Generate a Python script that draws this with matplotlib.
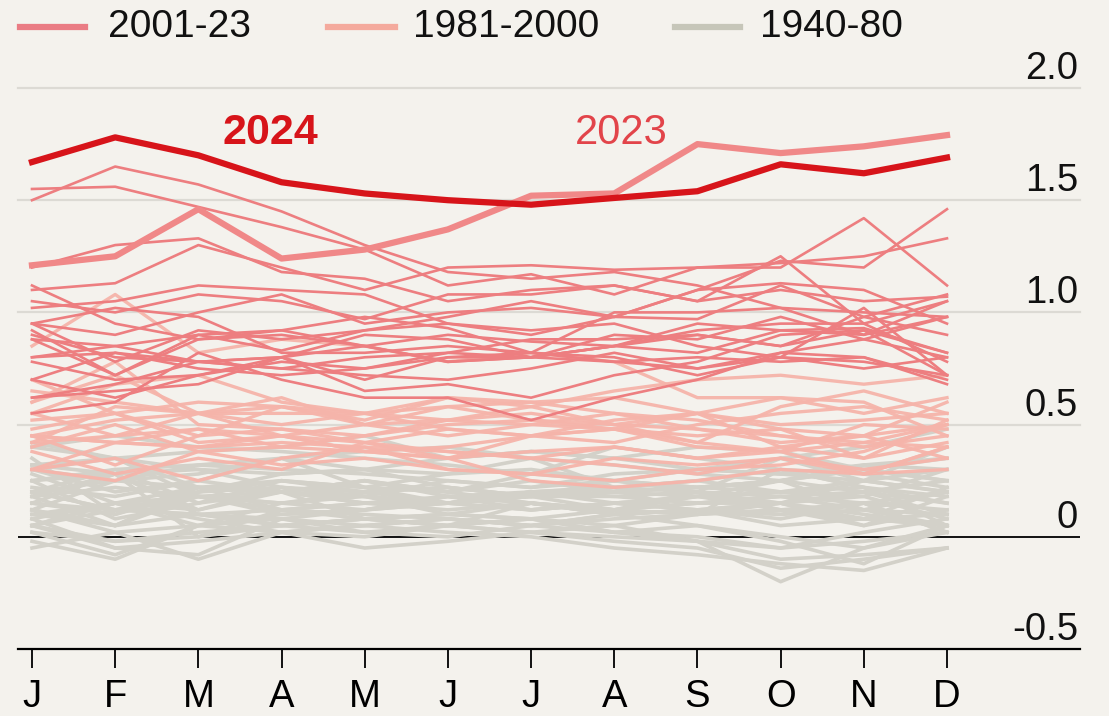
import matplotlib
matplotlib.use("Agg")
import matplotlib.pyplot as plt
from matplotlib.lines import Line2D

plt.rcParams['font.family'] = ['Liberation Sans', 'DejaVu Sans']

months = ["J", "F", "M", "A", "M", "J", "J", "A", "S", "O", "N", "D"]
y_ticks = [-0.5, 0, 0.5, 1.0, 1.5, 2.0]
y_tick_labels = ["-0.5", "0", "0.5", "1.0", "1.5", "2.0"]
legend_labels = ["2001-23", "1981-2000", "1940-80"]

v2024 = [1.67, 1.78, 1.70, 1.58, 1.53, 1.50, 1.48, 1.51, 1.54, 1.66, 1.62, 1.69]
v2023 = [1.21, 1.25, 1.46, 1.24, 1.28, 1.37, 1.52, 1.53, 1.75, 1.71, 1.74, 1.79]

years_2001_22 = [
    [0.62, 0.68, 0.78, 0.75, 0.72, 0.70, 0.75, 0.82, 0.75, 0.82, 0.88, 0.80],  # 2001
    [0.95, 1.02, 0.98, 0.82, 0.82, 0.85, 0.82, 0.78, 0.80, 0.78, 0.80, 0.70],  # 2002
    [0.90, 0.80, 0.78, 0.80, 0.85, 0.78, 0.80, 0.90, 0.88, 0.98, 0.88, 0.98],  # 2003
    [0.80, 0.85, 0.78, 0.80, 0.65, 0.68, 0.62, 0.72, 0.78, 0.90, 0.92, 0.72],  # 2004
    [0.92, 0.72, 0.88, 0.90, 0.85, 0.90, 0.87, 0.85, 0.95, 0.92, 0.93, 0.82],  # 2005
    [0.70, 0.82, 0.75, 0.72, 0.75, 0.80, 0.80, 0.85, 0.82, 0.92, 0.90, 0.98],  # 2006
    [1.12, 0.95, 0.88, 0.92, 0.85, 0.78, 0.80, 0.78, 0.75, 0.80, 0.78, 0.72],  # 2007
    [0.55, 0.60, 0.82, 0.70, 0.62, 0.62, 0.52, 0.62, 0.70, 0.82, 0.80, 0.68],  # 2008
    [0.78, 0.70, 0.72, 0.78, 0.75, 0.82, 0.88, 0.88, 0.90, 0.85, 0.92, 0.82],  # 2009
    [1.02, 1.05, 1.12, 1.10, 1.08, 0.95, 0.92, 0.95, 0.85, 0.80, 1.02, 0.72],  # 2010
    [0.70, 0.62, 0.72, 0.80, 0.70, 0.80, 0.82, 0.80, 0.72, 0.80, 0.75, 0.80],  # 2011
    [0.62, 0.65, 0.68, 0.80, 0.90, 0.88, 0.80, 0.85, 0.92, 0.95, 0.95, 0.78],  # 2012
    [0.80, 0.82, 0.78, 0.75, 0.80, 0.82, 0.80, 0.85, 0.90, 0.85, 0.98, 0.90],  # 2013
    [0.88, 0.72, 0.90, 0.92, 0.98, 0.93, 0.82, 1.00, 1.00, 1.02, 0.90, 1.05],  # 2014
    [0.88, 0.85, 0.90, 0.83, 0.92, 0.95, 0.90, 0.98, 1.10, 1.23, 1.20, 1.46],  # 2015
    [1.50, 1.65, 1.57, 1.45, 1.30, 1.18, 1.15, 1.18, 1.12, 1.02, 1.00, 0.98],  # 2016
    [1.20, 1.30, 1.33, 1.18, 1.15, 1.05, 1.10, 1.12, 1.05, 1.10, 1.05, 1.07],  # 2017
    [0.95, 0.90, 1.00, 1.08, 0.95, 1.00, 1.02, 0.98, 0.97, 1.12, 0.98, 1.08],  # 2018
    [1.10, 1.13, 1.30, 1.20, 1.10, 1.20, 1.21, 1.19, 1.20, 1.22, 1.25, 1.33],  # 2019
    [1.55, 1.56, 1.47, 1.38, 1.28, 1.12, 1.17, 1.08, 1.20, 1.20, 1.42, 1.12],  # 2020
    [0.95, 0.78, 0.92, 0.88, 0.92, 0.98, 1.05, 0.98, 1.10, 1.13, 1.10, 0.95],  # 2021
    [1.05, 1.00, 1.08, 1.05, 0.97, 1.08, 1.08, 1.12, 1.05, 1.25, 0.95, 1.05],  # 2022
]

years_1981_2000 = [
    [0.55, 0.45, 0.55, 0.45, 0.38, 0.40, 0.45, 0.48, 0.40, 0.38, 0.42, 0.50],
    [0.30, 0.35, 0.25, 0.35, 0.40, 0.30, 0.28, 0.25, 0.30, 0.32, 0.38, 0.50],
    [0.65, 0.60, 0.55, 0.55, 0.55, 0.48, 0.45, 0.52, 0.55, 0.40, 0.45, 0.35],
    [0.38, 0.28, 0.35, 0.30, 0.42, 0.35, 0.38, 0.40, 0.35, 0.38, 0.28, 0.30],
    [0.30, 0.25, 0.38, 0.32, 0.35, 0.30, 0.28, 0.35, 0.32, 0.35, 0.30, 0.35],
    [0.45, 0.42, 0.40, 0.42, 0.40, 0.38, 0.35, 0.40, 0.35, 0.40, 0.35, 0.42],
    [0.40, 0.50, 0.38, 0.40, 0.45, 0.52, 0.58, 0.50, 0.55, 0.48, 0.45, 0.60],
    [0.70, 0.55, 0.60, 0.58, 0.55, 0.52, 0.55, 0.50, 0.48, 0.45, 0.40, 0.45],
    [0.30, 0.42, 0.40, 0.45, 0.38, 0.35, 0.45, 0.48, 0.45, 0.48, 0.35, 0.52],
    [0.55, 0.68, 0.72, 0.60, 0.55, 0.58, 0.52, 0.50, 0.42, 0.58, 0.65, 0.55],
    [0.52, 0.55, 0.45, 0.58, 0.50, 0.58, 0.60, 0.55, 0.48, 0.42, 0.45, 0.50],
    [0.45, 0.42, 0.48, 0.40, 0.38, 0.35, 0.25, 0.22, 0.25, 0.30, 0.28, 0.40],
    [0.42, 0.45, 0.48, 0.45, 0.42, 0.38, 0.35, 0.32, 0.28, 0.35, 0.28, 0.40],
    [0.45, 0.32, 0.45, 0.48, 0.42, 0.48, 0.45, 0.42, 0.50, 0.55, 0.58, 0.52],
    [0.60, 0.72, 0.55, 0.58, 0.52, 0.62, 0.60, 0.62, 0.55, 0.62, 0.60, 0.45],
    [0.48, 0.55, 0.42, 0.45, 0.50, 0.45, 0.50, 0.48, 0.42, 0.38, 0.50, 0.48],
    [0.45, 0.52, 0.55, 0.50, 0.55, 0.62, 0.58, 0.65, 0.70, 0.72, 0.68, 0.72],
    [0.85, 1.08, 0.82, 0.88, 0.85, 0.78, 0.82, 0.78, 0.62, 0.62, 0.55, 0.62],
    [0.60, 0.78, 0.50, 0.48, 0.45, 0.50, 0.52, 0.48, 0.55, 0.50, 0.52, 0.55],
    [0.42, 0.58, 0.55, 0.62, 0.50, 0.52, 0.50, 0.55, 0.52, 0.45, 0.42, 0.40],
]

years_1940_80 = [
    [0.05, 0.12, 0.20, 0.25, 0.22, 0.28, 0.30, 0.25, 0.30, 0.28, 0.32, 0.35],
    [0.30, 0.25, 0.28, 0.35, 0.30, 0.28, 0.35, 0.22, 0.10, 0.30, 0.22, 0.18],
    [0.35, 0.10, 0.22, 0.20, 0.25, 0.20, 0.15, 0.12, 0.18, 0.15, 0.20, 0.25],
    [0.20, 0.30, 0.15, 0.25, 0.22, 0.15, 0.20, 0.18, 0.20, 0.35, 0.25, 0.40],
    [0.42, 0.35, 0.30, 0.28, 0.30, 0.35, 0.38, 0.35, 0.40, 0.38, 0.30, 0.25],
    [0.30, 0.20, 0.25, 0.35, 0.22, 0.20, 0.28, 0.40, 0.35, 0.30, 0.22, 0.05],
    [0.28, 0.15, 0.12, 0.20, 0.08, 0.05, 0.15, 0.10, 0.12, 0.08, 0.15, 0.02],
    [0.12, 0.05, 0.20, 0.22, 0.18, 0.15, 0.12, 0.15, 0.18, 0.25, 0.20, 0.10],
    [0.25, 0.08, 0.15, 0.20, 0.25, 0.18, 0.12, 0.15, 0.12, 0.15, 0.10, 0.05],
    [0.20, 0.12, 0.18, 0.12, 0.10, 0.08, 0.05, 0.10, 0.12, 0.15, 0.08, 0.05],
    [-0.02, -0.10, 0.05, 0.08, 0.02, 0.05, 0.08, 0.02, 0.05, 0.00, -0.05, 0.02],
    [0.05, -0.05, -0.08, 0.08, 0.12, 0.15, 0.18, 0.22, 0.25, 0.20, 0.18, 0.30],
    [0.32, 0.28, 0.12, 0.22, 0.18, 0.15, 0.20, 0.22, 0.20, 0.12, 0.05, 0.18],
    [0.25, 0.30, 0.32, 0.30, 0.28, 0.25, 0.22, 0.25, 0.22, 0.25, 0.12, 0.20],
    [0.05, 0.15, 0.08, 0.02, 0.05, 0.08, 0.05, 0.08, 0.10, 0.12, 0.15, 0.02],
    [0.12, 0.02, -0.10, 0.02, 0.05, 0.08, 0.05, 0.10, 0.05, -0.02, -0.12, 0.05],
    [0.02, -0.08, 0.05, 0.02, 0.00, 0.05, 0.08, 0.02, -0.02, -0.05, 0.02, 0.08],
    [0.10, 0.15, 0.05, 0.15, 0.20, 0.22, 0.18, 0.25, 0.22, 0.20, 0.25, 0.30],
    [0.40, 0.35, 0.22, 0.20, 0.25, 0.20, 0.25, 0.20, 0.18, 0.20, 0.22, 0.15],
    [0.22, 0.18, 0.25, 0.20, 0.15, 0.18, 0.20, 0.15, 0.12, 0.10, 0.15, 0.20],
    [0.18, 0.28, 0.00, 0.12, 0.15, 0.15, 0.12, 0.15, 0.18, 0.12, 0.08, 0.22],
    [0.20, 0.25, 0.22, 0.25, 0.20, 0.22, 0.18, 0.18, 0.15, 0.15, 0.18, 0.08],
    [0.18, 0.22, 0.18, 0.15, 0.12, 0.18, 0.15, 0.12, 0.15, 0.18, 0.20, 0.15],
    [0.15, 0.28, 0.10, 0.12, 0.15, 0.15, 0.20, 0.22, 0.25, 0.30, 0.28, 0.22],
    [0.20, 0.12, 0.10, 0.05, 0.08, 0.05, 0.02, -0.02, -0.05, -0.14, -0.10, -0.05],
    [0.12, 0.05, 0.10, 0.05, 0.08, 0.10, 0.08, 0.12, 0.10, 0.15, 0.05, 0.12],
    [0.08, 0.15, 0.18, 0.10, 0.12, 0.18, 0.15, 0.10, 0.12, 0.05, 0.08, 0.10],
    [0.10, 0.05, 0.18, 0.15, 0.18, 0.10, 0.15, 0.12, 0.15, 0.18, 0.12, 0.10],
    [0.05, 0.15, 0.22, 0.12, 0.08, 0.10, 0.08, 0.05, 0.10, 0.12, 0.08, 0.05],
    [0.15, 0.10, 0.20, 0.28, 0.30, 0.22, 0.18, 0.20, 0.22, 0.25, 0.32, 0.30],
    [0.30, 0.35, 0.18, 0.20, 0.15, 0.12, 0.15, 0.10, 0.12, 0.10, 0.12, 0.05],
    [0.05, -0.02, 0.00, 0.05, 0.02, 0.00, 0.05, 0.02, 0.00, -0.05, -0.02, 0.02],
    [-0.05, 0.02, 0.05, 0.10, 0.12, 0.15, 0.18, 0.20, 0.22, 0.25, 0.30, 0.35],
    [0.40, 0.45, 0.40, 0.38, 0.35, 0.32, 0.28, 0.25, 0.20, 0.18, 0.15, 0.12],
    [0.02, -0.02, 0.02, 0.05, 0.08, 0.05, 0.02, 0.05, -0.02, -0.10, -0.08, -0.05],
    [0.15, 0.12, 0.10, 0.08, 0.05, 0.02, 0.00, -0.05, -0.08, -0.12, -0.15, -0.05],
    [0.08, -0.05, -0.02, 0.02, -0.05, -0.02, 0.02, 0.00, -0.02, -0.20, -0.05, 0.05],
    [0.12, 0.25, 0.32, 0.35, 0.38, 0.40, 0.35, 0.32, 0.28, 0.25, 0.30, 0.25],
    [0.25, 0.28, 0.30, 0.22, 0.20, 0.15, 0.18, 0.12, 0.20, 0.15, 0.25, 0.20],
    [0.18, 0.05, 0.22, 0.20, 0.18, 0.25, 0.22, 0.28, 0.30, 0.35, 0.40, 0.48],
    [0.32, 0.35, 0.38, 0.40, 0.45, 0.35, 0.38, 0.35, 0.30, 0.28, 0.25, 0.20],
]

BG = "#f4f2ed"
C_GREY = "#d3d1c9"
C_PINK = "#f6b4aa"
C_RED = "#ed7e80"
C_2023 = "#f08888"
C_2024 = "#d7141a"
LEG_COLORS = ["#ea7c84", "#f4aa9d", "#c6c6b9"]

W, H = 1109, 716
fig = plt.figure(figsize=(W / 100, H / 100), dpi=100)
fig.patch.set_facecolor(BG)

px_month = (947 - 32) / 11
ax = fig.add_axes([18 / W, (H - 649) / H, (1080 - 18) / W, (649 - 88) / H])
ax.set_facecolor(BG)
ax.set_xlim(-(32 - 18) / px_month, 11 + (1080 - 947) / px_month)
ax.set_ylim(-0.5, 2.0)

x = list(range(12))

for v in [0.5, 1.0, 1.5, 2.0]:
    ax.axhline(v, color="#dcdad4", lw=1.6, zorder=0, clip_on=False)
ax.axhline(0, color="black", lw=1.3, zorder=1)

for row in years_1940_80:
    ax.plot(x, row, color=C_GREY, lw=2.6, zorder=2)
for row in years_1981_2000:
    ax.plot(x, row, color=C_PINK, lw=2.4, zorder=3, alpha=0.95)
for row in years_2001_22:
    ax.plot(x, row, color=C_RED, lw=1.9, zorder=4)
ax.plot(x, v2023, color=C_2023, lw=4.5, zorder=5)
ax.plot(x, v2024, color=C_2024, lw=4.5, zorder=6)

ax.text(2.87, 1.80, "2024", color=C_2024, fontsize=31, fontweight="bold",
        ha="center", va="center", zorder=7)
ax.text(7.08, 1.80, "2023", color="#e2444a", fontsize=30,
        ha="center", va="center", zorder=7)

for s in ["top", "left", "right"]:
    ax.spines[s].set_visible(False)
ax.spines["bottom"].set_color("black")
ax.spines["bottom"].set_linewidth(1.6)

ax.set_xticks(x)
ax.set_xticklabels(months)
ax.tick_params(axis="x", length=13.5, width=1.3, pad=8, labelsize=27.5, color="black")
ax.set_yticks([])

for v, lab in zip(y_ticks, y_tick_labels):
    ax.annotate(lab, xy=(1, v), xycoords=("axes fraction", "data"),
                xytext=(-1.5, 6.5), textcoords="offset points",
                ha="right", va="baseline", fontsize=27.5, color="#111111",
                annotation_clip=False)

leg_y = 1 - 27 / H
handles_x = [(20, 85), (328, 395), (675, 740)]
texts_x = [108, 413, 760]
for (x0, x1), tx, lab, col in zip(handles_x, texts_x, legend_labels, LEG_COLORS):
    fig.add_artist(Line2D([x0 / W, x1 / W], [leg_y, leg_y], transform=fig.transFigure,
                          color=col, lw=4.5))
    fig.text(tx / W, leg_y, lab, fontsize=28, va="center", ha="left", color="#111111")

fig.savefig("out.png", dpi=100, facecolor=BG)
